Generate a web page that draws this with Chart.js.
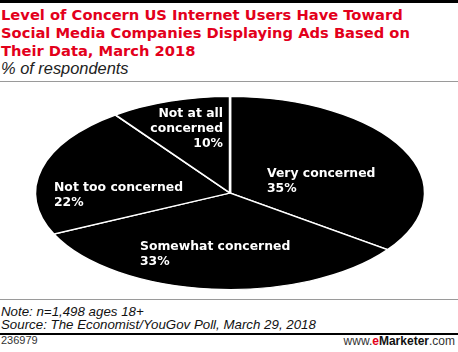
<!DOCTYPE html>
<html>
<head>
<meta charset="utf-8">
<script src="https://cdn.jsdelivr.net/npm/chart.js@4/dist/chart.umd.min.js"></script>
<style>
    html, body { margin: 0; padding: 0; background: #fff; }
    body { width: 458px; height: 352px; position: relative; overflow: hidden; font-family: 'Liberation Sans', Arial, sans-serif; }
    .abs { position: absolute; white-space: nowrap; }
    #topbar { left: 0; top: 0; width: 458px; height: 3px; background: #000; }
    #title { left: 1px; top: 6.3px; color: #e3001b; font-family: 'DejaVu Sans', sans-serif; font-weight: bold; font-size: 14.7px; line-height: 17.8px; }
    #subtitle { left: 1px; top: 60.3px; font-style: italic; font-size: 16.4px; line-height: 16px; color: #222; }
    #sep1 { left: 0; top: 81px; width: 458px; height: 1px; background: #9a9a9a; }
    #sep2 { left: 0; top: 299px; width: 458px; height: 1px; background: #9a9a9a; }
    #note { left: 1px; top: 304.8px; font-style: italic; font-size: 13.3px; line-height: 13px; color: #111; }
    #sep3 { left: 0; top: 333px; width: 458px; height: 2px; background: #000; }
    #id { left: 1px; top: 335.4px; font-size: 11px; line-height: 11px; color: #333; }
    #brand { right: 3px; top: 334.8px; font-size: 12px; line-height: 12px; color: #333; }
    #brand b { color: #111; }
    #brand .e { color: #e3001b; }
    #wrap { left: 0; top: 0; width: 458px; height: 352px; }
</style>
</head>
<body>
<div class="abs" id="topbar"></div>
<div class="abs" id="title">Level of Concern US Internet Users Have Toward<br>Social Media Companies Displaying Ads Based on<br>Their Data, March 2018</div>
<div class="abs" id="subtitle">% of respondents</div>
<div class="abs" id="sep1"></div>
<div class="abs" id="sep2"></div>
<div class="abs" id="note">Note: n=1,498 ages 18+<br>Source: The Economist/YouGov Poll, March 29, 2018</div>
<div class="abs" id="sep3"></div>
<div class="abs" id="id">236979</div>
<div class="abs" id="brand">www.<b class="e">e</b><b>Marketer</b>.com</div>
<div class="abs" id="wrap"><canvas id="chart-pie"></canvas></div>
<script>
const CATEGORIES = ['Very concerned', 'Somewhat concerned', 'Not too concerned', 'Not at all concerned'];
const LABEL_LINES = [['Very concerned'], ['Somewhat concerned'], ['Not too concerned'], ['Not at all', 'concerned']];
const VALUES = [35, 33, 22, 10];

// baseline of each label's first line, relative to the pie centre (layout only)
const LABEL_POS = [
    { dx: 37, dy: -16.3, align: 'left' },
    { dx: -90, dy: 57, align: 'left' },
    { dx: -176, dy: -2.3, align: 'left' },
    { dx: -7, dy: -75.7, align: 'right' }
];
const SQUASH = 0.495;

const squashPlugin = {
    id: 'squash',
    beforeDatasetsDraw(chart) {
        const arc = chart.getDatasetMeta(0).data[0];
        const ctx = chart.ctx;
        ctx.save();
        ctx.translate(arc.x, arc.y);
        ctx.scale(1, SQUASH);
        ctx.translate(-arc.x, -arc.y);
    },
    afterDatasetsDraw(chart) {
        const ctx = chart.ctx;
        ctx.restore();
        const meta = chart.getDatasetMeta(0);
        const cx = meta.data[0].x, cy = meta.data[0].y;
        ctx.save();
        ctx.fillStyle = '#fff';
        ctx.font = "bold 12.4px 'DejaVu Sans', sans-serif";
        ctx.textBaseline = 'alphabetic';
        meta.data.forEach((el, i) => {
            const p = LABEL_POS[i];
            const lines = LABEL_LINES[i].concat([chart.data.datasets[0].data[i] + '%']);
            ctx.textAlign = p.align;
            lines.forEach((t, j) => ctx.fillText(t, cx + p.dx, cy + p.dy + j * 15));
        });
        ctx.restore();
    }
};

new Chart(document.getElementById('chart-pie'), {
    type: 'pie',
    data: {
        labels: CATEGORIES,
        datasets: [{
            data: VALUES,
            backgroundColor: '#000',
            borderColor: '#fff',
            borderWidth: 2.5,
            hoverOffset: 0
        }]
    },
    options: {
        responsive: true,
        maintainAspectRatio: false,
        animation: false,
        radius: 195,
        layout: { padding: { left: 10, right: 8, top: 100, bottom: 66 } },
        plugins: { legend: { display: false }, tooltip: { enabled: false } }
    },
    plugins: [squashPlugin]
});
</script>
</body>
</html>
